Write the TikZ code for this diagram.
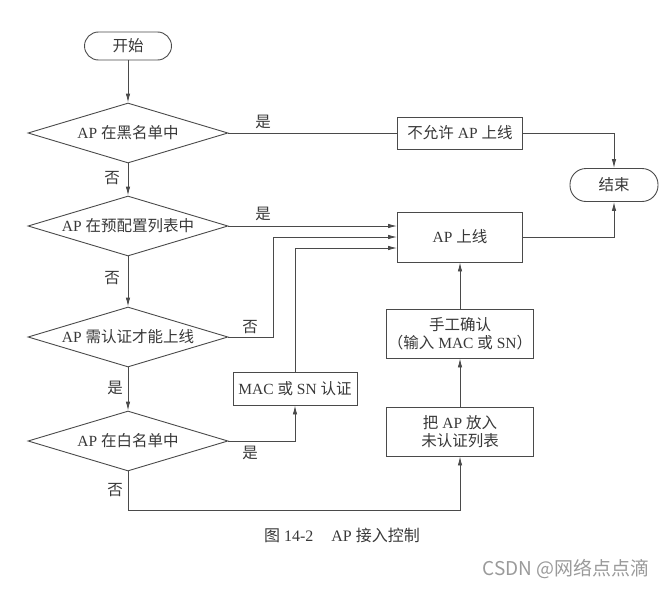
\documentclass[tikz,border=0pt]{standalone}
\usepackage{fontspec}
\setmainfont{Liberation Serif}
\newfontfamily\cjk{Noto Sans CJK SC}
\usetikzlibrary{shapes.geometric,arrows.meta}
\definecolor{ln}{HTML}{4A4A4A}
\definecolor{tx}{HTML}{383838}
\definecolor{wm}{HTML}{9A9A9A}
\newcommand{\zh}[1]{{\cjk #1}}
\begin{document}
\begin{tikzpicture}[x=1pt,y=-1pt,
  every node/.style={text=tx,font=\fontsize{15.5}{18.5}\selectfont},
  dec/.style={draw=ln,line width=0.9pt,shape=diamond,aspect=3.33,minimum width=200pt,minimum height=60pt,inner sep=0pt},
  proc/.style={draw=ln,line width=0.9pt,rectangle,inner sep=0pt,align=center},
  term/.style={draw=ln,line width=0.9pt,rectangle,inner sep=0pt},
  lbl/.style={inner sep=0pt},
  arr/.style={draw=ln,line width=0.9pt,-{Latex[length=9pt,width=4.5pt]}},
  ln/.style={draw=ln,line width=0.9pt}]
\useasboundingbox (0,0) rectangle (667,589);
\node[term,minimum width=87pt,minimum height=28pt,rounded corners=14pt] (start) at (128,46) {\zh{开始}};
\node[dec] (d1) at (128,133) {AP \zh{在黑名单中}};
\node[dec] (d2) at (128,226) {AP \zh{在预配置列表中}};
\node[dec] (d3) at (128,337) {AP \zh{需认证才能上线}};
\node[dec] (d4) at (128,441) {AP \zh{在白名单中}};
\node[proc,minimum width=125pt,minimum height=32pt] (deny) at (460,133) {\zh{不允许} AP \zh{上线}};
\node[proc,minimum width=125pt,minimum height=50pt] (online) at (460,237) {AP \zh{上线}};
\node[term,minimum width=88pt,minimum height=33pt,rounded corners=16pt] (end) at (614,185) {\zh{结束}};
\node[proc,minimum width=124pt,minimum height=33pt] (mac) at (295,388.5) {MAC \zh{或} SN \zh{认证}};
\node[proc,minimum width=147pt,minimum height=49pt] (manual) at (460,333.5) {\zh{手工确认}\\\zh{（输入} MAC \zh{或} SN\zh{）}};
\node[proc,minimum width=147pt,minimum height=49pt] (put) at (460,431.5) {\zh{把} AP \zh{放入}\\\zh{未认证列表}};
% connectors
\draw[arr] (start.south) -- (d1.north);
\draw[ln] (d1.east) -- (deny.west);
\draw[arr] (deny.east) -| (end.north);
\draw[arr] (d1.south) -- (d2.north);
\draw[arr] (d2.east) -- (d2.east -| online.west);
\draw[arr] (d2.south) -- (d3.north);
\draw[arr] (d3.east) -- ++(45,0) |- (online.west);
\draw[arr] (mac.north) |- ([yshift=-11pt]online.west);
\draw[arr] (d3.south) -- (d4.north);
\draw[arr] (d4.east) -| (mac.south);
\draw[arr] (d4.south) -- ++(0,39) -| (put.south);
\draw[arr] (put.north) -- (manual.south);
\draw[arr] (manual.north) -- (online.south);
\draw[arr] (online.east) -| (end.south);
% labels
\node[lbl] (l1) at (263,122) {\zh{是}};
\node[lbl] (l2) at (263,214) {\zh{是}};
\node[lbl] (l3) at (112,178) {\zh{否}};
\node[lbl] (l4) at (112,278) {\zh{否}};
\node[lbl] (l5) at (250,327) {\zh{否}};
\node[lbl] (l6) at (115,388) {\zh{是}};
\node[lbl] (l7) at (250,453) {\zh{是}};
\node[lbl] (l8) at (115,490) {\zh{否}};
% caption and watermark
\node[lbl,font=\fontsize{16}{19}\selectfont] (cap) at (342,535) {\zh{图} 14-2\hspace{18pt}AP \zh{接入控制}};
\node[lbl,text=wm,font=\cjk\fontsize{19}{22}\selectfont] (wmk) at (566,569) {CSDN @网络点点滴};
\end{tikzpicture}
\end{document}
